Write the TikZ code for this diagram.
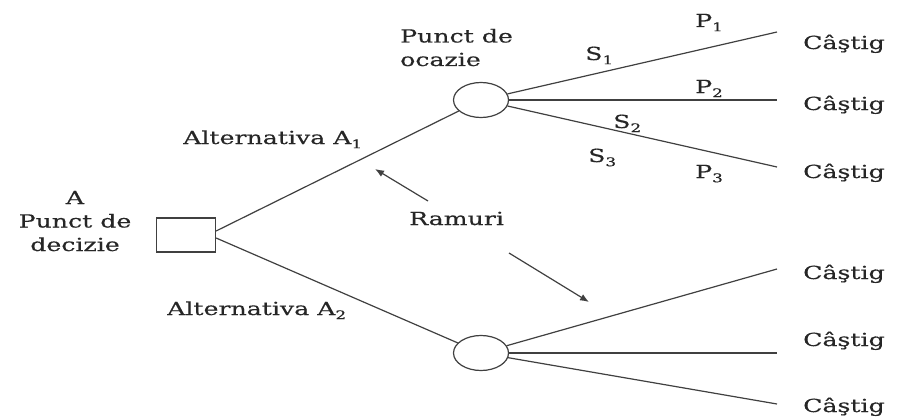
\documentclass[tikz,border=0pt]{standalone}
\usepackage{fontspec}
\setmainfont{DejaVu Serif}[FakeStretch=1.4,FakeBold=0.4]
\usetikzlibrary{shapes.geometric,arrows.meta}
\newcommand{\lsub}[1]{\raisebox{-0.45ex}{\fontsize{12}{12}\selectfont #1}}
\begin{document}
\begin{tikzpicture}[x=1pt,y=-1pt,
  lbl/.style={anchor=base west,inner sep=0pt,font=\fontsize{18}{23.5}\selectfont,text=black!85},
  branch/.style={draw=black!75,line width=1.2pt},
  pointer/.style={draw=black!75,line width=1.2pt,-{Latex[length=9pt,width=7pt]}},
  decbox/.style={draw=black!75,line width=1.2pt,minimum width=59pt,minimum height=34pt,inner sep=0pt},
  chance/.style={draw=black!75,line width=1.2pt,ellipse,minimum width=55pt,minimum height=35pt,inner sep=0pt}]
\useasboundingbox (0,0) rectangle (899,420);
\fill[white] (0,0) rectangle (899,420);
% nodes
\node[decbox] (dec) at (186,235) {};
\node[chance] (c1) at (481,100) {};
\node[chance] (c2) at (481,353) {};
% end coordinates
\coordinate (e1) at (777,32);
\coordinate (e2) at (777,100);
\coordinate (e3) at (777,167);
\coordinate (e4) at (777,269);
\coordinate (e5) at (777,353);
\coordinate (e6) at (777,404);
% branches
\draw[branch] ([yshift=4pt]dec.east) -- (c1);
\draw[branch] ([yshift=-3pt]dec.east) -- (c2);
\draw[branch] (c1) -- (e1);
\draw[branch] (c1.east) -- (e2);
\draw[branch] (c1) -- (e3);
\draw[branch] (c2) -- (e4);
\draw[branch] (c2.east) -- (e5);
\draw[branch] (c2) -- (e6);
% labels
\node[lbl] (g1) at (803,49) {Câştig};
\node[lbl] (g2) at (803,110) {Câştig};
\node[lbl] (g3) at (803,178) {Câştig};
\node[lbl] (g4) at (803,279) {Câştig};
\node[lbl] (g5) at (803,346) {Câştig};
\node[lbl] (g6) at (803,412) {Câştig};
\node[lbl] (p1) at (695,27) {P\lsub{1}};
\node[lbl] (p2) at (695,93) {P\lsub{2}};
\node[lbl] (p3) at (695,178) {P\lsub{3}};
\node[lbl] (s1) at (585,60) {S\lsub{1}};
\node[lbl] (s2) at (613,128) {S\lsub{2}};
\node[lbl] (s3) at (588,162) {S\lsub{3}};
\node[lbl,align=left] (oc) at (400,66) {Punct de\\ocazie};
\node[lbl] (a1) at (183,144) {Alternativa A\lsub{1}};
\node[lbl] (a2) at (167,315) {Alternativa A\lsub{2}};
\node[lbl,align=center,anchor=base] (pd) at (75,251) {A\\Punct de\\decizie};
\node[lbl] (ram) at (409,225) {Ramuri};
% pointers
\coordinate (t1) at (375,169);
\coordinate (t2) at (589,302);
\draw[pointer] (428,201) -- (t1);
\draw[pointer] (509,253) -- (t2);
\end{tikzpicture}
\end{document}
